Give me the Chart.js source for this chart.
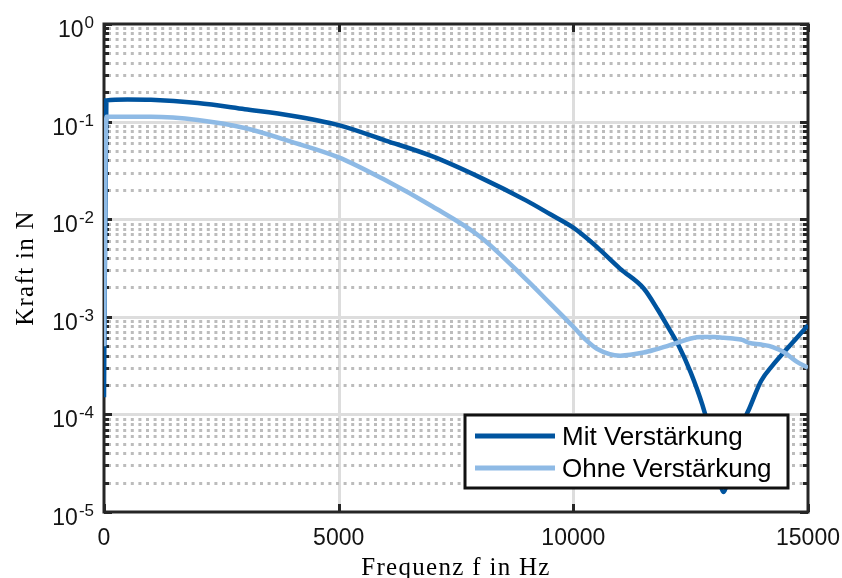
<!DOCTYPE html>
<html>
<head>
<meta charset="utf-8">
<script src="https://cdn.jsdelivr.net/npm/chart.js@4/dist/chart.umd.min.js"></script>
<style>
  html, body { margin: 0; padding: 0; background: #ffffff; }
  #wrap { width: 842px; height: 578px; }
</style>
</head>
<body>
<div id="wrap"><canvas id="chart" width="842" height="578"></canvas></div>
<script>
// Frequency grid of the spectrum (Hz)
const frequencies = [0, 50, 500, 1000, 2000, 3000, 4000, 5000, 6000, 7000, 8000, 9000, 9500,
  10000, 10250, 10500, 11000, 11500, 11800, 12000, 12250, 12500, 12750, 13000, 13200, 13400,
  13600, 13750, 14000, 14250, 14500, 14750, 15000];

// Force amplitude with reinforcement (N)
const mitVerstaerkung = [1.5e-4, 0.165, 0.168, 0.167, 0.155, 0.134, 0.115, 0.092, 0.064, 0.044,
  0.027, 0.0155, 0.0113, 0.0082, 0.0066, 0.0052, 0.0031, 0.00195, 0.00118, 8.1e-4, 5.0e-4,
  2.7e-4, 1.25e-4, 4.5e-5, 1.6e-5, 4.0e-5, 8.0e-5, 1.15e-4, 2.2e-4, 3.2e-4, 4.4e-4, 6.0e-4,
  8.2e-4];

// Force amplitude without reinforcement (N)
const ohneVerstaerkung = [5.0e-4, 0.112, 0.112, 0.112, 0.104, 0.086, 0.062, 0.043, 0.025, 0.0135,
  0.0067, 0.0024, 0.00138, 7.9e-4, 5.9e-4, 4.7e-4, 4.0e-4, 4.3e-4, 4.7e-4, 5.0e-4, 5.5e-4,
  6.0e-4, 6.2e-4, 6.2e-4, 6.1e-4, 6.0e-4, 5.8e-4, 5.4e-4, 5.2e-4, 4.9e-4, 4.3e-4, 3.5e-4,
  3.0e-4];

const seriesNames = ['Mit Verstärkung', 'Ohne Verstärkung'];
const xTickValues = [0, 5000, 10000, 15000];
const yTickExponents = [0, -1, -2, -3, -4, -5];
const xTitle = 'Frequenz f in Hz';
const yTitle = 'Kraft in N';

const colorMit = '#00549F';
const colorOhne = '#8EBAE5';
const axisColor = '#262626';
const sansFont = '"Liberation Sans", Arial, sans-serif';
const serifFont = '"Liberation Serif", "Times New Roman", serif';

function toPoints(values) {
  return frequencies.map((f, i) => ({ x: f, y: values[i] }));
}

// Grid, axes box and tick marks, drawn underneath the curves
const framePlugin = {
  id: 'frame',
  beforeDatasetsDraw(chart) {
    const { ctx, chartArea: a, scales: { x, y } } = chart;
    ctx.save();
    ctx.lineCap = 'butt';

    // major grid lines
    ctx.strokeStyle = '#dddddd';
    ctx.lineWidth = 3;
    ctx.setLineDash([]);
    xTickValues.forEach(v => {
      const px = Math.round(x.getPixelForValue(v)) + 0.5;
      if (px <= a.left + 2 || px >= a.right - 2) return;
      ctx.beginPath(); ctx.moveTo(px, a.top); ctx.lineTo(px, a.bottom); ctx.stroke();
    });
    yTickExponents.forEach(e => {
      const py = Math.round(y.getPixelForValue(Math.pow(10, e))) + 0.5;
      if (py <= a.top + 2 || py >= a.bottom - 2) return;
      ctx.beginPath(); ctx.moveTo(a.left, py); ctx.lineTo(a.right, py); ctx.stroke();
    });

    // minor (dotted) grid lines
    ctx.strokeStyle = '#bcbcbc';
    ctx.lineWidth = 3;
    ctx.setLineDash([3, 4.6]);
    for (let e = -5; e < 0; e++) {
      for (let m = 2; m <= 9; m++) {
        const py = Math.round(y.getPixelForValue(m * Math.pow(10, e))) + 0.5;
        ctx.beginPath(); ctx.moveTo(Math.round(a.left) + 4, py); ctx.lineTo(a.right, py); ctx.stroke();
      }
    }
    ctx.setLineDash([]);

    // tick marks (inside, on all four sides)
    ctx.strokeStyle = axisColor;
    ctx.lineWidth = 3;
    for (let e = -5; e <= 0; e++) {
      for (let m = 1; m <= 9; m++) {
        if (e === 0 && m > 1) break;
        const py = Math.round(y.getPixelForValue(m * Math.pow(10, e))) + 0.5;
        const len = m === 1 ? 8 : 5;
        ctx.beginPath();
        ctx.moveTo(a.left, py); ctx.lineTo(a.left + len, py);
        ctx.moveTo(a.right, py); ctx.lineTo(a.right - len, py);
        ctx.stroke();
      }
    }
    xTickValues.forEach(v => {
      const px = Math.round(x.getPixelForValue(v)) + 0.5;
      ctx.beginPath();
      ctx.moveTo(px, a.bottom); ctx.lineTo(px, a.bottom - 8);
      ctx.moveTo(px, a.top); ctx.lineTo(px, a.top + 8);
      ctx.stroke();
    });

    // axes box
    ctx.lineWidth = 3;
    ctx.strokeRect(a.left, a.top, a.right - a.left, a.bottom - a.top);
    ctx.restore();
  },

  // Tick labels, axis titles and legend
  afterDraw(chart) {
    const { ctx, chartArea: a, scales: { x, y } } = chart;
    ctx.save();
    ctx.fillStyle = '#141414';
    ctx.textBaseline = 'alphabetic';

    // y tick labels: 10 with superscript exponent
    const labelRight = a.left - 10;
    yTickExponents.forEach(e => {
      const py = y.getPixelForValue(Math.pow(10, e));
      const exp = String(e);
      ctx.textAlign = 'right';
      ctx.font = '17px ' + sansFont;
      const supW = ctx.measureText(exp).width;
      ctx.fillText(exp, labelRight, py + 4);
      ctx.font = '23px ' + sansFont;
      ctx.fillText('10', labelRight - supW - 1, py + 13);
    });

    // x tick labels
    ctx.font = '23px ' + sansFont;
    ctx.textAlign = 'center';
    xTickValues.forEach(v => {
      ctx.fillText(String(v), x.getPixelForValue(v), a.bottom + 33);
    });

    // axis titles
    ctx.fillStyle = '#000000';
    ctx.font = '25px ' + serifFont;
    ctx.letterSpacing = '1.3px';
    ctx.textAlign = 'center';
    ctx.fillText(xTitle, (a.left + a.right) / 2, a.bottom + 63);
    ctx.save();
    ctx.translate(33, (a.top + a.bottom) / 2);
    ctx.rotate(-Math.PI / 2);
    ctx.fillText(yTitle, 0, 0);
    ctx.restore();
    ctx.letterSpacing = '0px';

    // legend box inside the plot area, lower right
    const bx = a.right - 343, by = a.bottom - 97, bw = 323, bh = 73;
    ctx.fillStyle = '#ffffff';
    ctx.fillRect(bx, by, bw, bh);
    ctx.strokeStyle = '#111111';
    ctx.lineWidth = 3;
    ctx.strokeRect(bx, by, bw, bh);
    const rows = [
      { name: seriesNames[0], color: colorMit, yOff: 21 },
      { name: seriesNames[1], color: colorOhne, yOff: 53 }
    ];
    ctx.font = '26px ' + sansFont;
    ctx.textAlign = 'left';
    rows.forEach(r => {
      ctx.strokeStyle = r.color;
      ctx.lineWidth = 5;
      ctx.beginPath();
      ctx.moveTo(bx + 10, by + r.yOff);
      ctx.lineTo(bx + 90, by + r.yOff);
      ctx.stroke();
      ctx.fillStyle = '#000000';
      ctx.fillText(r.name, bx + 97, by + r.yOff + 9);
    });
    ctx.restore();
  }
};

new Chart(document.getElementById('chart'), {
  type: 'line',
  data: {
    datasets: [
      {
        label: seriesNames[0],
        data: toPoints(mitVerstaerkung),
        borderColor: colorMit,
        borderWidth: 4.5,
        pointRadius: 0,
        fill: false,
        cubicInterpolationMode: 'monotone',
        order: 1
      },
      {
        label: seriesNames[1],
        data: toPoints(ohneVerstaerkung),
        borderColor: colorOhne,
        borderWidth: 4.5,
        pointRadius: 0,
        fill: false,
        cubicInterpolationMode: 'monotone',
        order: 0
      }
    ]
  },
  options: {
    responsive: false,
    animation: false,
    devicePixelRatio: 1,
    layout: { padding: { left: 104, right: 34, top: 24, bottom: 66 } },
    plugins: {
      legend: { display: false },
      tooltip: { enabled: false }
    },
    scales: {
      x: { type: 'linear', min: 0, max: 15000, display: false },
      y: { type: 'logarithmic', min: 1e-5, max: 1, display: false }
    }
  },
  plugins: [framePlugin]
});
</script>
</body>
</html>
